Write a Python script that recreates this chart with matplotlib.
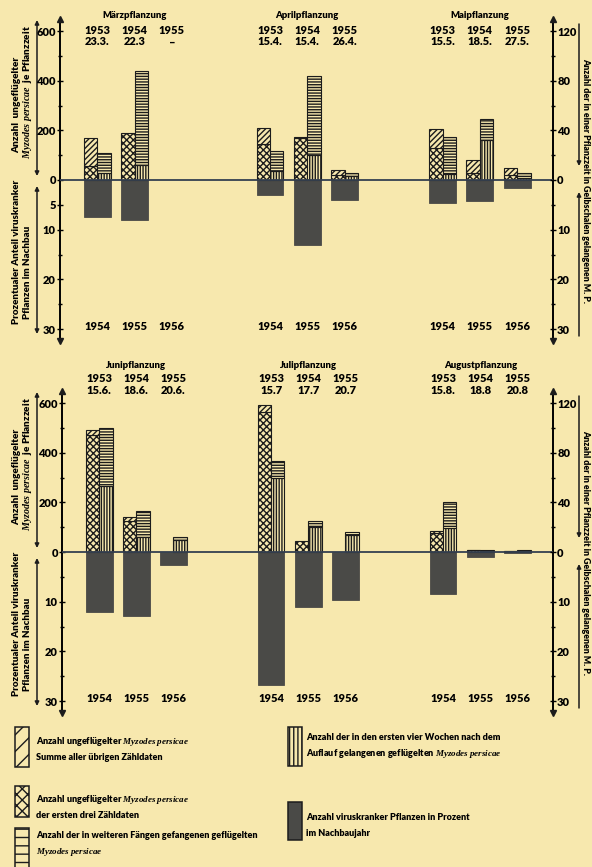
import matplotlib.pyplot as plt
import numpy as np

plt.rcParams['font.family'] = ['Lato', 'DejaVu Sans']
plt.rcParams['font.weight'] = 'heavy'
plt.rcParams['mathtext.fontset'] = 'custom'
plt.rcParams['mathtext.it'] = 'Liberation Serif:italic:bold'
plt.rcParams['mathtext.rm'] = 'Lato:bold'
plt.rcParams['hatch.linewidth'] = 1.0
plt.rcParams['hatch.color'] = '#1c1c1c'

paper = '#f7e8ae'
ink = '#1c1c1c'
dark = '#4a4a47'

years_planted = ['1953', '1954', '1955']
years_after = ['1954', '1955', '1956']

# upper block: März, April, Mai
months_a = ['Märzpflanzung', 'Aprilpflanzung', 'Maipflanzung']
dates_a = [['23.3.', '22.3', '–'], ['15.4.', '15.4.', '26.4.'], ['15.5.', '18.5.', '27.5.']]
first3_a = [[55, 190, 0], [145, 170, 20], [130, 30, 20]]        # ungeflügelt, erste drei Zähldaten
unwinged_a = [[170, 190, 0], [210, 175, 40], [205, 80, 50]]     # ungeflügelt, gesamt
first4w_a = [[6, 12, 0], [7, 20, 3], [5, 32, 2]]                # geflügelt, erste vier Wochen
winged_a = [[22, 88, 0], [23, 84, 6], [35, 49, 6]]              # geflügelt, gesamt
virus_a = [[7.5, 8.1, 0], [3.0, 13.1, 4.0], [4.7, 4.2, 1.7]]    # % viruskrank im Nachbau

# lower block: Juni, Juli, August
months_b = ['Junipflanzung', 'Julipflanzung', 'Augustpflanzung']
dates_b = [['15.6.', '18.6.', '20.6.'], ['15.7', '17.7', '20.7'], ['15.8.', '18.8', '20.8']]
first3_b = [[470, 125, 0], [565, 45, 0], [75, 8, 4]]
unwinged_b = [[490, 140, 0], [592, 45, 0], [85, 10, 5]]
first4w_b = [[53, 12, 10], [60, 20, 14], [19, 1, 1]]
winged_b = [[100, 33, 12], [73, 25, 16], [40, 2, 2]]
virus_b = [[12.1, 12.9, 2.7], [26.8, 11.1, 9.6], [8.5, 1.0, 0.3]]

WING = 5    # right scale (geflügelte) -> left scale units
PCT = 20    # percent -> left scale units
YMAX = 650
XMAX = 13.22
bw = 0.36

fig = plt.figure(figsize=(5.92, 8.67), dpi=100, facecolor=paper)


def px_axes(left, zero, right):
    # axes placed by pixel position of spines and zero line
    top = zero - YMAX * 149 / 600
    h = 2 * YMAX * 149 / 600
    return fig.add_axes([left / 592, 1 - (top + h) / 867, (right - left) / 592, h / 867])


def draw_panel(ax, months, dates, first3, unwinged, first4w, winged, virus, head_y, show5):
    ax.set_facecolor('none')
    ax.set_xlim(0, XMAX)
    ax.set_ylim(-YMAX, YMAX)
    for m in range(3):
        xs = 1 + m * 4.63 + np.arange(3)
        c = np.array(first3[m])
        u = np.array(unwinged[m])
        f = np.array(first4w[m]) * WING
        w = np.array(winged[m]) * WING
        v = np.array(virus[m]) * PCT
        ax.bar(xs, -v, width=2 * bw, color=dark, edgecolor=dark, lw=0.6, zorder=2)
        ax.bar(xs - bw / 2, c, width=bw, color=paper, edgecolor=ink, lw=0.8,
               hatch='xxxxx', zorder=3)
        ax.bar(xs - bw / 2, u - c, bottom=c, width=bw, color=paper, edgecolor=ink,
               lw=0.8, hatch='//////', zorder=3)
        ax.bar(xs + bw / 2, f, width=bw, color=paper, edgecolor=ink, lw=0.8,
               hatch='||||||', zorder=3)
        ax.bar(xs + bw / 2, w - f, bottom=f, width=bw, color=paper, edgecolor=ink,
               lw=0.8, hatch='------', zorder=3)
        for k in range(3):
            ax.text(xs[k], head_y[1], years_planted[k], ha='center', va='center', fontsize=8)
            ax.text(xs[k], head_y[2], dates[m][k], ha='center', va='center', fontsize=8)
            ax.text(xs[k], -590, years_after[k], ha='center', va='center', fontsize=8)
        ax.text(xs[1], head_y[0], months[m], ha='center', va='center', fontsize=6.8)
    # empty bars still draw an edge line; hide zero-height ones
    for p in ax.patches:
        if p.get_height() == 0:
            p.set_visible(False)
    ax.axhline(0, color='#354050', lw=1.3, zorder=4)

    for s in ['top', 'bottom']:
        ax.spines[s].set_visible(False)
    ax.spines['left'].set_linewidth(1.4)
    ax.spines['right'].set_linewidth(1.4)
    ax.set_xticks([])
    lt = [600, 400, 200, 0, -200, -400, -600]
    ll = ['600', '400', '200', '0', '10', '20', '30']
    if show5:
        lt.append(-100)
        ll.append('5')
    ax.set_yticks(lt, ll)
    ax.set_yticks([500, 300, 100, -300, -500] + ([] if show5 else [-100]), minor=True)
    ax.tick_params(axis='y', which='both', direction='inout', length=4, width=1,
                   labelsize=8, pad=1)
    ax.tick_params(axis='y', which='minor', length=3)

    tw = ax.twinx()
    tw.set_ylim(-YMAX, YMAX)
    for s in ['top', 'bottom', 'left', 'right']:
        tw.spines[s].set_visible(False)
    tw.set_yticks([600, 400, 200, 0, -200, -400, -600],
                  ['120', '80', '40', '0', '10', '20', '30'])
    tw.set_yticks([500, 300, 100, -100, -300, -500], minor=True)
    tw.tick_params(axis='y', which='both', direction='inout', length=4, width=1,
                   labelsize=8, pad=1)
    tw.tick_params(axis='y', which='minor', length=3)

    for x, y, mk in [(0, YMAX, '^'), (0, -YMAX, 'v'), (XMAX, YMAX, '^'), (XMAX, -YMAX, 'v')]:
        ax.plot([x], [y], marker=mk, ms=4, color=ink, clip_on=False, zorder=5)


ax1 = px_axes(60, 180, 553)
draw_panel(ax1, months_a, dates_a, first3_a, unwinged_a, first4w_a, winged_a, virus_a,
           (664, 604, 556), True)
ax2 = px_axes(62, 552, 553)
draw_panel(ax2, months_b, dates_b, first3_b, unwinged_b, first4w_b, winged_b, virus_b,
           (752, 700, 651), False)

# overlay in pixel coordinates for side labels and key
ov = fig.add_axes([0, 0, 1, 1], zorder=-1)
ov.set_xlim(0, 592)
ov.set_ylim(867, 0)
ov.axis('off')

myz = r'$\mathit{Myzodes\ persicae}$'


def arrow(x, y0, y1, style):
    ov.annotate('', xy=(x, y0), xytext=(x, y1),
                arrowprops=dict(arrowstyle=style, color=ink, lw=1.1, mutation_scale=6,
                                shrinkA=0, shrinkB=0))


for dz in [0, 372]:
    ov.text(17, 105 + dz, 'Anzahl  ungeflügelter', rotation=90, ha='center', va='center',
            fontsize=7.2)
    ov.text(28, 92 + dz, myz + '  je Pflanzzeit', rotation=90, ha='center', va='center',
            fontsize=7.2)
    arrow(37, 20 + dz, 176 + dz, '<|-|>')
    ov.text(17, 252 + dz, 'Prozentualer Anteil viruskranker', rotation=90, ha='center',
            va='center', fontsize=7)
    ov.text(28, 272 + dz, 'Pflanzen im Nachbau', rotation=90, ha='center', va='center',
            fontsize=7)
    arrow(37, 186 + dz, 334 + dz, '<|-|>')
    ov.text(586, 181 + dz, 'Anzahl der in einer Pflanzzeit in Gelbschalen gelangenen M. P.',
            rotation=-90, ha='center', va='center', fontsize=6.3)
    arrow(579, 24 + dz, 166 + dz, '<|-')
    arrow(579, 192 + dz, 336 + dz, '-|>')

# key
key = [
    (15, 727, 40, '//', paper, 36, 742, 'Anzahl ungeflügelter ' + myz,
     'Summe aller übrigen Zähldaten'),
    (15, 786, 31, 'xxx', paper, 36, 800, 'Anzahl ungeflügelter ' + myz,
     'der ersten drei Zähldaten'),
    (15, 828, 42, '--', paper, 36, 836,
     'Anzahl der in weiteren Fängen gefangenen geflügelten', myz),
    (288, 727, 39, '||||', paper, 306, 738,
     'Anzahl der in den ersten vier Wochen nach dem',
     'Auflauf gelangenen geflügelten ' + myz),
    (288, 802, 38, None, dark, 306, 818, 'Anzahl viruskranker Pflanzen in Prozent',
     'im Nachbaujahr'),
]
for x, y, h, hatch, fc, tx, ty, l1, l2 in key:
    ov.add_patch(plt.Rectangle((x, y), 14, h, facecolor=fc, edgecolor=ink, lw=1.1,
                               hatch=hatch))
    ov.text(tx, ty, l1, ha='left', va='center', fontsize=6.5)
    ov.text(tx, ty + 16, l2, ha='left', va='center', fontsize=6.5)

fig.savefig('out.png', dpi=100, facecolor=paper)
